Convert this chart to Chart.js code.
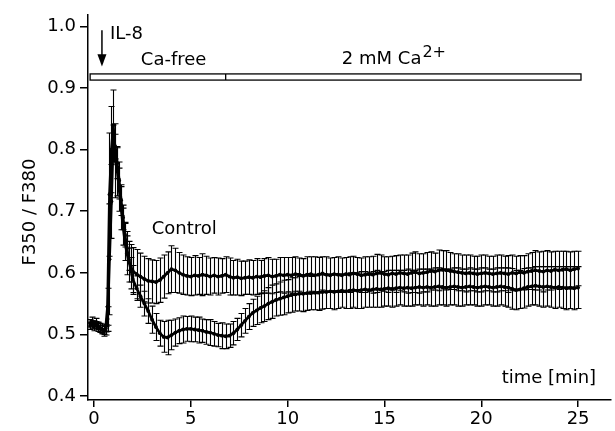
<!DOCTYPE html>
<html lang="en">
<head>
    <meta charset="UTF-8">
    <title>F350 / F380</title>
    <script src="https://cdn.jsdelivr.net/npm/chart.js"></script>
    <style>
        body {
            margin: 0;
            background: #fff;
        }
        .wrap {
            width: 615px;
            height: 431px;
        }
    </style>
</head>
<body>
    <div class="wrap">
        <canvas id="ratioChart"></canvas>
    </div>

    <script>
        const times = [
            -0.2, -0.1, 0, 0.1, 0.2, 0.3, 0.4, 0.5, 0.6,
            0.7, 0.8, 0.9, 1.0, 1.1, 1.2, 1.3, 1.4, 1.5, 1.6, 1.7, 1.8, 1.9, 2.0,
            2.2, 2.4, 2.6, 2.8, 3.0,
            3.2, 3.4, 3.6, 3.8, 4.0, 4.2, 4.4, 4.6, 4.8, 5.0,
            5.2, 5.4, 5.6, 5.8, 6.0, 6.2, 6.4, 6.6, 6.8, 7.0,
            7.2, 7.4, 7.6, 7.8, 8.0, 8.2, 8.4, 8.6, 8.8, 9.0,
            9.2, 9.4, 9.6, 9.8, 10.0, 10.2, 10.4, 10.6, 10.8, 11.0,
            11.2, 11.4, 11.6, 11.8, 12.0, 12.2, 12.4, 12.6, 12.8, 13.0,
            13.2, 13.4, 13.6, 13.8, 14.0, 14.2, 14.4, 14.6, 14.8, 15.0,
            15.2, 15.4, 15.6, 15.8, 16.0, 16.2, 16.4, 16.6, 16.8, 17.0,
            17.2, 17.4, 17.6, 17.8, 18.0, 18.2, 18.4, 18.6, 18.8, 19.0,
            19.2, 19.4, 19.6, 19.8, 20.0, 20.2, 20.4, 20.6, 20.8, 21.0,
            21.2, 21.4, 21.6, 21.8, 22.0, 22.2, 22.4, 22.6, 22.8, 23.0,
            23.2, 23.4, 23.6, 23.8, 24.0, 24.2, 24.4, 24.6, 24.8, 25.0
        ];

        // Control (upper trace after the peak)
        const controlMean = [
            0.518, 0.521, 0.516, 0.519, 0.514, 0.511, 0.509, 0.507, 0.510,
            0.545, 0.727, 0.800, 0.840, 0.782, 0.765, 0.735, 0.705, 0.675, 0.650, 0.632, 0.618, 0.610, 0.603,
            0.598, 0.594, 0.590, 0.587, 0.586,
            0.585, 0.588, 0.594, 0.600, 0.606, 0.604, 0.600, 0.597, 0.595, 0.594,
            0.596, 0.595, 0.597, 0.596, 0.594, 0.596, 0.594, 0.595, 0.597, 0.594,
            0.592, 0.593, 0.591, 0.592, 0.593, 0.592, 0.594, 0.593, 0.595, 0.596,
            0.594, 0.595, 0.597, 0.596, 0.597, 0.596, 0.598, 0.597, 0.595, 0.597,
            0.598, 0.596, 0.597, 0.599, 0.597, 0.596, 0.598, 0.597, 0.596, 0.598,
            0.597, 0.599, 0.598, 0.596, 0.597, 0.598, 0.597, 0.599, 0.600, 0.598,
            0.597, 0.599, 0.598, 0.600, 0.599, 0.598, 0.600, 0.601, 0.599, 0.600,
            0.601, 0.603, 0.602, 0.604, 0.605, 0.604, 0.603, 0.602, 0.601, 0.600,
            0.599, 0.600, 0.599, 0.598, 0.599, 0.600, 0.599, 0.598, 0.599, 0.600,
            0.599, 0.598, 0.600, 0.599, 0.601, 0.600, 0.602, 0.603, 0.604, 0.603,
            0.602, 0.604, 0.603, 0.605, 0.604, 0.605, 0.606, 0.604, 0.606, 0.607
        ];
        const controlSd = [
            0.006, 0.007, 0.006, 0.007, 0.006, 0.007, 0.008, 0.007, 0.006,
            0.030, 0.100, 0.070, 0.057, 0.060, 0.040, 0.035, 0.035, 0.030, 0.030, 0.035, 0.033, 0.036, 0.038,
            0.040, 0.038, 0.037, 0.036, 0.035,
            0.035, 0.036, 0.035, 0.034, 0.038, 0.036, 0.033, 0.032, 0.031, 0.031,
            0.032, 0.030, 0.034, 0.031, 0.030, 0.029, 0.030, 0.028, 0.029, 0.030,
            0.028, 0.029, 0.028, 0.027, 0.028, 0.028, 0.029, 0.027, 0.028, 0.029,
            0.028, 0.027, 0.028, 0.029, 0.028, 0.029, 0.028, 0.027, 0.028, 0.029,
            0.028, 0.030, 0.028, 0.027, 0.029, 0.028, 0.027, 0.029, 0.028, 0.027,
            0.029, 0.028, 0.027, 0.028, 0.029, 0.028, 0.030, 0.031, 0.029, 0.028,
            0.029, 0.028, 0.030, 0.029, 0.030, 0.031, 0.032, 0.033, 0.032, 0.031,
            0.032, 0.031, 0.030, 0.033, 0.031, 0.032, 0.030, 0.029, 0.030, 0.029,
            0.030, 0.029, 0.028, 0.029, 0.030, 0.029, 0.028, 0.029, 0.030, 0.029,
            0.028, 0.030, 0.029, 0.028, 0.027, 0.028, 0.029, 0.030, 0.032, 0.031,
            0.033, 0.032, 0.031, 0.030, 0.031, 0.030, 0.029, 0.030, 0.029, 0.028
        ];

        // second trace (drops after the peak, recovers with Ca2+)
        const lowerMean = [
            0.514, 0.516, 0.513, 0.515, 0.512, 0.509, 0.508, 0.505, 0.506,
            0.525, 0.622, 0.716, 0.820, 0.805, 0.778, 0.750, 0.718, 0.690, 0.662, 0.640, 0.622, 0.605, 0.590,
            0.575, 0.562, 0.550, 0.538, 0.524,
            0.512, 0.502, 0.496, 0.495, 0.499, 0.503, 0.506, 0.508, 0.509, 0.509,
            0.508, 0.507, 0.506, 0.504, 0.503, 0.501, 0.499, 0.498, 0.497, 0.498,
            0.502, 0.508, 0.515, 0.522, 0.529, 0.535, 0.539, 0.543, 0.546, 0.550,
            0.553, 0.556, 0.558, 0.560, 0.562, 0.564, 0.565, 0.566, 0.566, 0.567,
            0.567, 0.568, 0.568, 0.569, 0.569, 0.570, 0.569, 0.570, 0.571, 0.570,
            0.571, 0.572, 0.571, 0.572, 0.573, 0.572, 0.573, 0.574, 0.573, 0.574,
            0.575, 0.574, 0.575, 0.576, 0.575, 0.576, 0.575, 0.576, 0.577, 0.576,
            0.577, 0.576, 0.577, 0.578, 0.577, 0.576, 0.577, 0.578, 0.577, 0.576,
            0.577, 0.578, 0.577, 0.576, 0.577, 0.578, 0.577, 0.576, 0.577, 0.578,
            0.577, 0.576, 0.574, 0.572, 0.573, 0.575, 0.577, 0.578, 0.579, 0.578,
            0.577, 0.578, 0.577, 0.576, 0.577, 0.576, 0.575, 0.576, 0.575, 0.576
        ];
        const lowerSd = [
            0.006, 0.006, 0.007, 0.006, 0.007, 0.006, 0.007, 0.008, 0.007,
            0.020, 0.090, 0.060, 0.020, 0.020, 0.025, 0.030, 0.025, 0.020, 0.020, 0.020, 0.018, 0.020, 0.022,
            0.020, 0.018, 0.020, 0.020, 0.022,
            0.022, 0.021, 0.025, 0.028, 0.024, 0.022, 0.021, 0.022, 0.020, 0.021,
            0.020, 0.021, 0.019, 0.020, 0.021, 0.020, 0.019, 0.021, 0.020, 0.019,
            0.019, 0.018, 0.019, 0.020, 0.021, 0.022, 0.023, 0.024, 0.025, 0.026,
            0.027, 0.026, 0.027, 0.028, 0.027, 0.028, 0.027, 0.028, 0.029, 0.028,
            0.027, 0.028, 0.029, 0.028, 0.027, 0.028, 0.029, 0.028, 0.027, 0.028,
            0.029, 0.028, 0.029, 0.030, 0.029, 0.028, 0.029, 0.030, 0.029, 0.028,
            0.029, 0.030, 0.029, 0.028, 0.029, 0.030, 0.029, 0.028, 0.029, 0.030,
            0.029, 0.030, 0.031, 0.030, 0.029, 0.030, 0.029, 0.030, 0.031, 0.030,
            0.029, 0.030, 0.029, 0.030, 0.031, 0.030, 0.029, 0.030, 0.031, 0.030,
            0.031, 0.032, 0.033, 0.032, 0.031, 0.032, 0.031, 0.030, 0.031, 0.032,
            0.033, 0.032, 0.033, 0.034, 0.033, 0.034, 0.035, 0.034, 0.035, 0.034
        ];

        const xTicks = [0, 5, 10, 15, 20, 25];
        const yTicks = [0.4, 0.5, 0.6, 0.7, 0.8, 0.9, 1.0];

        const FONT = 'DejaVu Sans';

        function toPoints(mean) {
            return times.map((t, i) => ({ x: t, y: mean[i] }));
        }

        // vertical error bars with caps, drawn under the lines
        const errorBars = {
            id: 'errorBars',
            beforeDatasetsDraw(chart) {
                const ctx = chart.ctx;
                const xs = chart.scales.x;
                const ys = chart.scales.y;
                const sets = [[controlMean, controlSd], [lowerMean, lowerSd]];
                ctx.save();
                ctx.strokeStyle = '#000';
                ctx.lineWidth = 1.1;
                sets.forEach(([mean, sd]) => {
                    times.forEach((t, i) => {
                        const px = Math.round(xs.getPixelForValue(t)) + 0.5;
                        const top = ys.getPixelForValue(mean[i] + sd[i]);
                        const bot = ys.getPixelForValue(mean[i] - sd[i]);
                        ctx.beginPath();
                        ctx.moveTo(px, top);
                        ctx.lineTo(px, bot);
                        ctx.moveTo(px - 3, top);
                        ctx.lineTo(px + 3, top);
                        ctx.moveTo(px - 3, bot);
                        ctx.lineTo(px + 3, bot);
                        ctx.stroke();
                    });
                });
                ctx.restore();
            }
        };

        // solution bar, IL-8 arrow and the text labels
        const notes = {
            id: 'notes',
            afterDraw(chart) {
                const ctx = chart.ctx;
                const xs = chart.scales.x;
                const ys = chart.scales.y;
                const X = v => xs.getPixelForValue(v);
                const Y = v => ys.getPixelForValue(v);
                ctx.save();
                ctx.strokeStyle = '#000';
                ctx.fillStyle = '#000';

                // bar: Ca-free | 2 mM Ca2+
                ctx.lineWidth = 1.3;
                ctx.strokeRect(X(-0.2), Y(0.923), X(25.15) - X(-0.2), Y(0.913) - Y(0.923));
                ctx.beginPath();
                ctx.moveTo(X(6.8), Y(0.923));
                ctx.lineTo(X(6.8), Y(0.913));
                ctx.stroke();

                // arrow
                const ax = X(0.41);
                ctx.lineWidth = 1.5;
                ctx.beginPath();
                ctx.moveTo(ax, Y(0.994));
                ctx.lineTo(ax, Y(0.95));
                ctx.stroke();
                ctx.beginPath();
                ctx.moveTo(ax - 4.5, Y(0.955));
                ctx.lineTo(ax + 4.5, Y(0.955));
                ctx.lineTo(ax, Y(0.935));
                ctx.closePath();
                ctx.fill();

                ctx.font = '18px "' + FONT + '"';
                ctx.textBaseline = 'alphabetic';
                ctx.textAlign = 'left';
                ctx.fillText('IL-8', X(0.82), Y(0.979));
                ctx.fillText('Ca-free', X(2.42), Y(0.937));
                ctx.fillText('Control', X(2.98), Y(0.663));

                const caText = '2 mM Ca';
                const cx = X(12.8);
                ctx.fillText(caText, cx, Y(0.9387));
                const w = ctx.measureText(caText).width;
                ctx.font = '16px "' + FONT + '"';
                ctx.fillText('2+', cx + w + 1, Y(0.9387) - 7);

                ctx.font = '18px "' + FONT + '"';
                ctx.textAlign = 'right';
                ctx.fillText('time [min]', X(25.93), Y(0.421));

                // y axis title
                ctx.translate(30, 212);
                ctx.rotate(-Math.PI / 2);
                ctx.textAlign = 'center';
                ctx.textBaseline = 'middle';
                ctx.fillText('F350 / F380', 0, 0);
                ctx.restore();
            }
        };

        function lineSet(mean) {
            return {
                data: toPoints(mean),
                borderColor: '#000',
                backgroundColor: '#000',
                borderWidth: 2.7,
                pointRadius: 1.9,
                pointBorderWidth: 0,
                tension: 0
            };
        }

        const ratioChart = new Chart(document.getElementById('ratioChart'), {
            type: 'line',
            data: {
                datasets: [lineSet(controlMean), lineSet(lowerMean)]
            },
            options: {
                responsive: true,
                maintainAspectRatio: false,
                animation: false,
                layout: { padding: { top: 12, right: 2, left: 0, bottom: 0 } },
                plugins: {
                    legend: { display: false },
                    tooltip: { enabled: false }
                },
                scales: {
                    x: {
                        type: 'linear',
                        min: -0.31,
                        max: 26.7,
                        afterBuildTicks: s => { s.ticks = xTicks.map(v => ({ value: v })); },
                        afterFit: s => { s.height = 31; },
                        ticks: {
                            color: '#000',
                            font: { family: FONT, size: 18 },
                            padding: 2,
                            maxRotation: 0
                        },
                        grid: { drawOnChartArea: false, tickLength: 7, color: '#000', lineWidth: 1.5 },
                        border: { color: '#000', width: 1.5 }
                    },
                    y: {
                        min: 0.3935,
                        max: 1.019,
                        afterBuildTicks: s => { s.ticks = yTicks.map(v => ({ value: v })); },
                        afterFit: s => { s.width = 88; },
                        ticks: {
                            color: '#000',
                            font: { family: FONT, size: 18 },
                            padding: 4,
                            callback: v => v.toFixed(1)
                        },
                        grid: { drawOnChartArea: false, tickLength: 8, color: '#000', lineWidth: 1.5 },
                        border: { color: '#000', width: 1.5 }
                    }
                }
            },
            plugins: [errorBars, notes]
        });
    </script>
</body>
</html>
